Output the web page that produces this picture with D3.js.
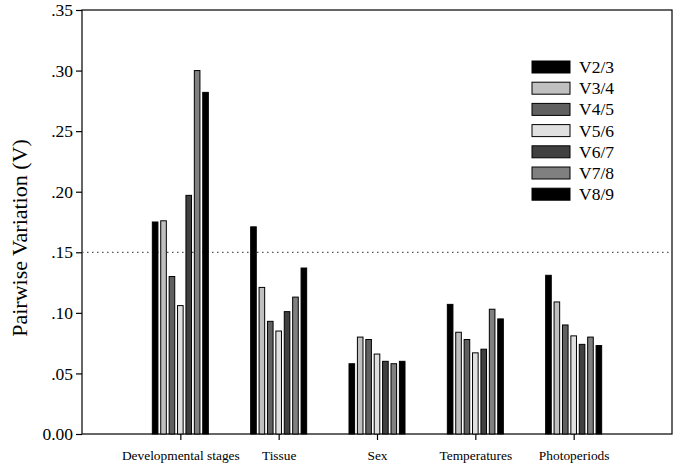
<!DOCTYPE html>
<html><head><meta charset="utf-8">
<script src="https://cdn.jsdelivr.net/npm/d3@7"></script>
<style>body{margin:0;background:#fff}svg{display:block}text{font-family:"Liberation Serif","Times New Roman",serif;fill:#000}</style>
</head><body><svg id="c" width="676" height="465"></svg>
<script>
const categories = ["Developmental stages","Tissue","Sex","Temperatures","Photoperiods"];
const seriesNames = ["V2/3","V3/4","V4/5","V5/6","V6/7","V7/8","V8/9"];
const seriesColors = ["#000000","#c0c0c0","#606060","#e0e0e0","#404040","#808080","#000000"];
const devStages = [0.175,0.176,0.130,0.106,0.197,0.300,0.282];
const tissue = [0.171,0.121,0.093,0.085,0.101,0.113,0.137];
const sex = [0.058,0.080,0.078,0.066,0.060,0.058,0.060];
const temperatures = [0.107,0.084,0.078,0.067,0.070,0.103,0.095];
const photoperiods = [0.131,0.109,0.090,0.081,0.074,0.080,0.073];
const values = [devStages,tissue,sex,temperatures,photoperiods];
const yTicks = [0,0.05,0.10,0.15,0.20,0.25,0.30,0.35];
const yTickLabels = ["0.00",".05",".10",".15",".20",".25",".30",".35"];
const threshold = 0.15;

const svg = d3.select("#c");
const L=82,R=672,T=10,B=434;
const x = d3.scaleLinear().domain([0,categories.length+1]).range([L,R]);
const y = d3.scaleLinear().domain([0,0.35]).range([B,T]);
const pitch = 8.4, bw = 5.6;
const inner = d3.scaleLinear().domain([0,seriesNames.length-1]).range([-3*pitch,3*pitch]);

// frame
svg.append("rect").attr("x",L).attr("y",T).attr("width",R-L).attr("height",B-T)
  .attr("fill","none").attr("stroke","#000").attr("stroke-width",1.2);

// threshold line
svg.append("line").attr("x1",L).attr("x2",R).attr("y1",y(threshold)).attr("y2",y(threshold))
  .attr("stroke","#555").attr("stroke-width",1.2).attr("stroke-dasharray","1.5,3.5");

// bars
categories.forEach((c,i)=>{
  const g = svg.append("g");
  g.selectAll("rect").data(values[i]).join("rect")
    .attr("x",(d,j)=>x(i+1)+inner(j)-bw/2)
    .attr("y",d=>y(d))
    .attr("width",bw)
    .attr("height",d=>B-y(d))
    .attr("fill",(d,j)=>seriesColors[j])
    .attr("stroke","#000").attr("stroke-width",1);
});

// y axis
const yAxis = d3.axisLeft(y).tickValues(yTicks).tickFormat((d,i)=>yTickLabels[i]).tickSize(6).tickPadding(3);
const ga = svg.append("g").attr("transform",`translate(${L},0)`).call(yAxis);
ga.attr("font-family",null);
ga.select(".domain").remove();
ga.selectAll("line").attr("stroke","#000").attr("stroke-width",1.2);
ga.selectAll("text").style("font-size","17.5px");

// x axis
const xAxis = d3.axisBottom(x).tickValues(categories.map((c,i)=>i+1)).tickFormat((d)=>categories[d-1]).tickSize(6).tickPadding(10);
const gx = svg.append("g").attr("transform",`translate(0,${B})`).call(xAxis);
gx.attr("font-family",null);
gx.select(".domain").remove();
gx.selectAll("line").attr("stroke","#000").attr("stroke-width",1.2);
gx.selectAll("text").style("font-size","13.4px");

// y title
svg.append("text").attr("transform",`translate(27,238) rotate(-90)`)
  .attr("text-anchor","middle").style("font-size","22px").text("Pairwise Variation (V)");

// legend
const lg = svg.append("g");
seriesNames.forEach((s,j)=>{
  const yy = 61 + j*21.2;
  lg.append("rect").attr("x",532).attr("y",yy).attr("width",38).attr("height",12)
    .attr("fill",seriesColors[j]).attr("stroke","#000").attr("stroke-width",1);
  lg.append("text").attr("x",579).attr("y",yy+12).style("font-size","17.5px").text(s);
});
</script></body></html>
